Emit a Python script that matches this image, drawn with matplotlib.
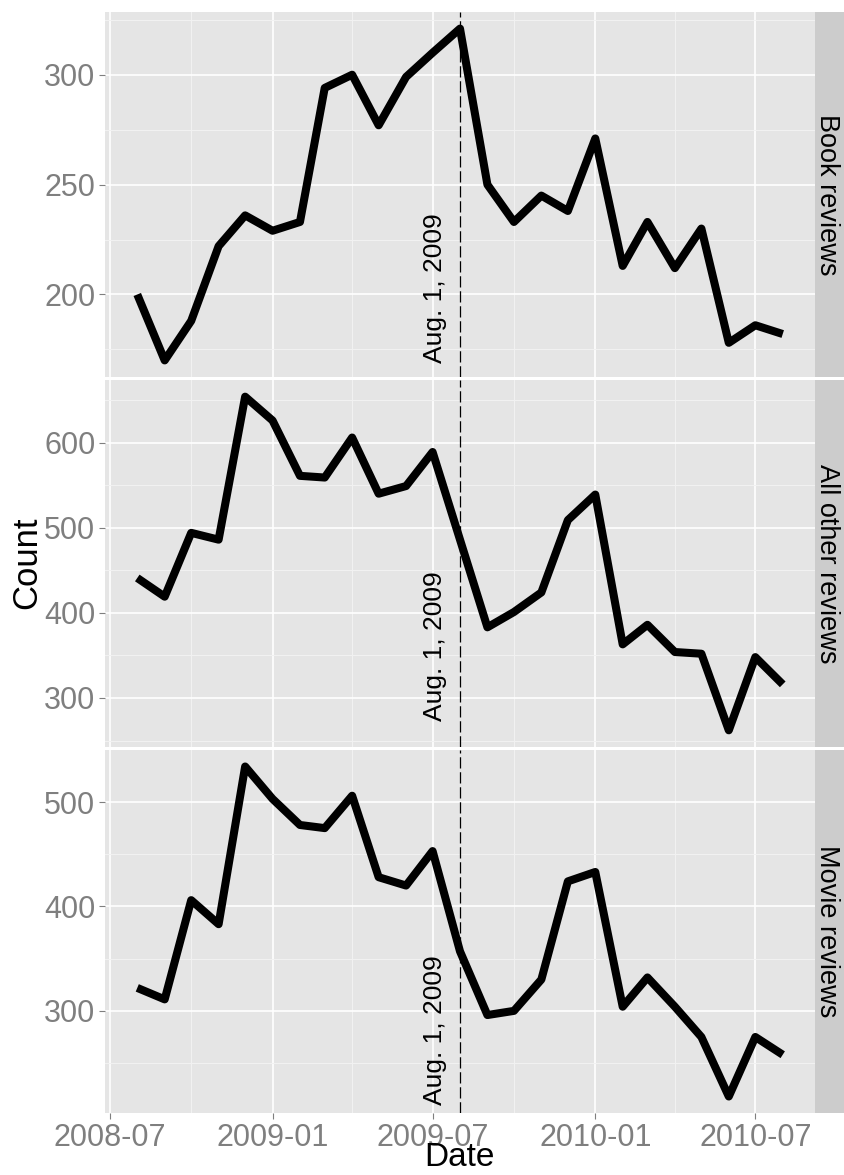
import numpy as np
import pandas as pd
import matplotlib
matplotlib.use("Agg")
import matplotlib.pyplot as plt
import matplotlib.dates as mdates
from matplotlib.ticker import FixedLocator

plt.rcParams['font.family'] = ['Liberation Sans', 'DejaVu Sans']

# monthly counts, Aug 2008 .. Aug 2010
months = pd.date_range('2008-08-01', '2010-08-01', freq='MS')
facets = ['Book reviews', 'All other reviews', 'Movie reviews']
book = [200, 170, 188, 222, 236, 229, 233, 294, 300, 277, 299, 310, 321,
        250, 233, 245, 238, 271, 213, 233, 212, 230, 178, 186, 182]
other = [441, 419, 494, 486, 654, 626, 561, 559, 606, 540, 549, 589, 486,
         383, 401, 424, 509, 539, 363, 386, 354, 352, 262, 348, 316]
movie = [322, 311, 406, 383, 534, 503, 478, 475, 506, 428, 420, 453, 357,
         296, 300, 330, 424, 433, 304, 332, 304, 275, 218, 275, 258]
series = [book, other, movie]
cutoff = pd.Timestamp('2009-08-01')
cutoff_label = 'Aug. 1, 2009'

# layout (pixels on an 844x1175 canvas)
W, H = 844, 1175
left_px, right_px, strip_px = 105, 815, 844
panels_px = [(12, 377), (380, 747), (750, 1113)]
label_y = [169, 273, 210]
major_y = [[200, 250, 300], [300, 400, 500, 600], [300, 400, 500]]
minor_y = [[175, 225, 275, 325], [250, 350, 450, 550, 650], [250, 350, 450, 550]]

bg = '#E5E5E5'
tick_col = '#7F7F7F'

fig = plt.figure(figsize=(W / 100, H / 100), dpi=100)

x0 = mdates.date2num(months[0])
x1 = mdates.date2num(months[-1])
xpad = 0.05 * (x1 - x0)

for i, (top, bot) in enumerate(panels_px):
    rect = [left_px / W, 1 - bot / H, (right_px - left_px) / W, (bot - top) / H]
    ax = fig.add_axes(rect)
    ax.set_facecolor(bg)
    for s in ax.spines.values():
        s.set_visible(False)

    vals = np.array(series[i])
    lo, hi = vals.min(), vals.max()
    pad = 0.05 * (hi - lo)
    ax.set_ylim(lo - pad, hi + pad)
    ax.set_xlim(x0 - xpad, x1 + xpad)

    ax.yaxis.set_major_locator(FixedLocator(major_y[i]))
    ax.yaxis.set_minor_locator(FixedLocator(minor_y[i]))
    ax.xaxis.set_major_locator(mdates.MonthLocator(bymonth=[1, 7]))
    ax.xaxis.set_minor_locator(mdates.MonthLocator(bymonth=[4, 10]))
    ax.xaxis.set_major_formatter(mdates.DateFormatter('%Y-%m'))

    ax.grid(which='major', color='white', linewidth=1.2)
    ax.grid(which='minor', color='#F2F2F2', linewidth=0.7)
    ax.set_axisbelow(True)

    ax.tick_params(axis='both', which='major', length=4, width=0.8,
                   color=tick_col, labelcolor=tick_col, labelsize=22, pad=3)
    ax.tick_params(axis='both', which='minor', length=0)
    if i < 2:
        ax.tick_params(axis='x', which='both', labelbottom=False, length=0)

    ax.plot(mdates.date2num(months), vals, color='black', linewidth=5.8,
            solid_capstyle='butt', solid_joinstyle='round', zorder=3)
    ax.axvline(mdates.date2num(cutoff), color='black', linewidth=0.9,
               linestyle=(0, (9, 3)), zorder=4)
    ax.annotate(cutoff_label, xy=(mdates.date2num(cutoff), label_y[i]),
                xytext=(-13, 0), textcoords='offset points',
                rotation=90, rotation_mode='anchor', ha='left', va='baseline',
                fontsize=19, color='black', zorder=5)

    # facet strip on the right
    sax = fig.add_axes([right_px / W, 1 - bot / H, (strip_px - right_px) / W,
                        (bot - top) / H])
    sax.set_facecolor('#CCCCCC')
    sax.set_xticks([])
    sax.set_yticks([])
    for s in sax.spines.values():
        s.set_visible(False)
    sax.text(0.42, 0.5, facets[i], rotation=-90, ha='center', va='center',
             fontsize=19.5, color='black', transform=sax.transAxes)

fig.text(27 / W, 1 - 563 / H, 'Count', rotation=90, ha='center', va='center',
         fontsize=25, color='black')
fig.text(459 / W, 1 - 1173 / H, 'Date', ha='center', va='bottom',
         fontsize=24, color='black')

fig.savefig('out.png', dpi=100)
